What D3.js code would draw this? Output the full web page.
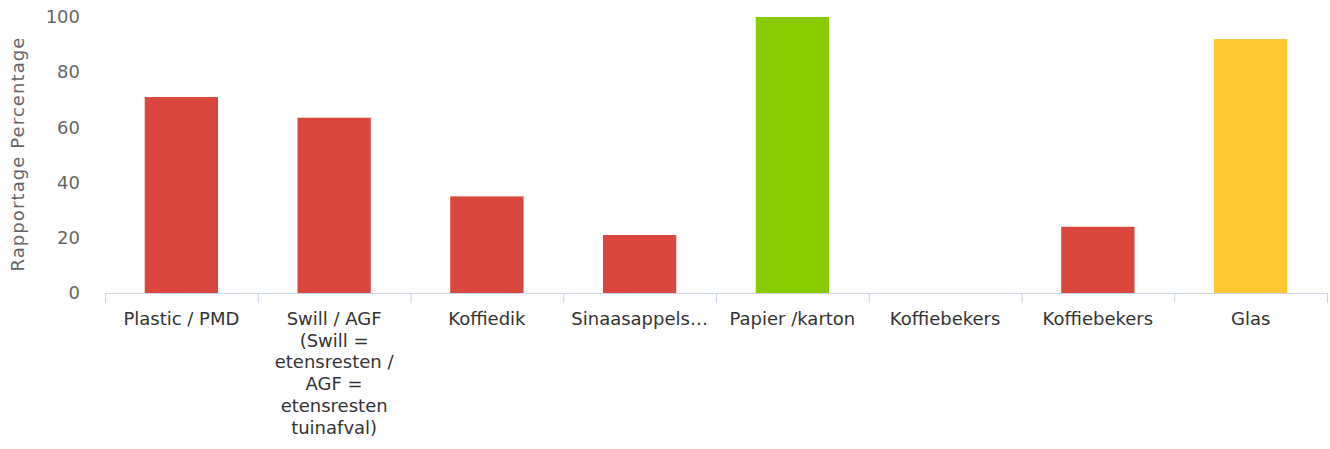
<!DOCTYPE html>
<html>
<head>
<meta charset="utf-8">
<script src="https://cdn.jsdelivr.net/npm/d3@7"></script>
<style>
  body { margin: 0; background: #fff; }
  text { font-family: "DejaVu Sans", sans-serif; }
</style>
</head>
<body>
<div class="chart"></div>
<script>
var categories = [
  "Plastic / PMD",
  "Swill / AGF (Swill = etensresten / AGF = etensresten tuinafval)",
  "Koffiedik",
  "Sinaasappels…",
  "Papier /karton",
  "Koffiebekers",
  "Koffiebekers",
  "Glas"
];
var values = [71, 63.5, 35, 21, 100, 0, 24, 92];
var barColors = ["#d9463e", "#d9463e", "#d9463e", "#d9463e", "#88cc00", "#d9463e", "#d9463e", "#fdc932"];
var yTicks = [0, 20, 40, 60, 80, 100];
var yTitle = "Rapportage Percentage";

var svgWidth = 1330;
var svgHeight = 449;

var margin = { top: 17, right: 3, bottom: 156, left: 105 };
var width = svgWidth - margin.left - margin.right;
var height = svgHeight - margin.top - margin.bottom;

var svg = d3.select(".chart")
  .append("svg")
  .attr("width", svgWidth)
  .attr("height", svgHeight);

var chartGroup = svg.append("g")
  .attr("transform", `translate(${margin.left}, ${margin.top})`);

var xBandScale = d3.scaleBand()
  .domain(d3.range(categories.length))
  .range([0, width])
  .paddingInner(0.52)
  .paddingOuter(0.26);

var yLinearScale = d3.scaleLinear()
  .domain([0, 100])
  .range([height, 0]);

// y tick labels, no axis line
var leftAxis = d3.axisLeft(yLinearScale).tickValues(yTicks).tickSize(0).tickPadding(25);
var yAxis = chartGroup.append("g").call(leftAxis);
yAxis.select(".domain").remove();
yAxis.selectAll("text")
  .attr("fill", "#666")
  .style("font-size", "18px");

// bars
chartGroup.selectAll("rect.bar")
  .data(values)
  .enter()
  .append("rect")
  .attr("class", "bar")
  .attr("x", (d, i) => xBandScale(i))
  .attr("y", d => yLinearScale(d))
  .attr("width", xBandScale.bandwidth())
  .attr("height", d => height - yLinearScale(d))
  .attr("fill", (d, i) => barColors[i]);

// x axis line + ticks at band edges
var step = xBandScale.step();
var edgeScale = d3.scaleLinear().domain([0, categories.length]).range([0, width]);
var bottomAxis = d3.axisBottom(edgeScale)
  .tickValues(d3.range(categories.length + 1))
  .tickSize(10)
  .tickSizeOuter(0)
  .tickFormat("");
var xAxis = chartGroup.append("g")
  .attr("transform", `translate(0, ${height})`)
  .call(bottomAxis);
xAxis.select(".domain").attr("stroke", "#ccd6eb");
xAxis.selectAll(".tick line").attr("stroke", "#ccd6eb");

// category labels, wrapped to the band width
var labelWidth = 146;
var lineHeight = 21.7;
categories.forEach(function(label, i) {
  var t = chartGroup.append("text")
    .attr("x", edgeScale(i + 0.5))
    .attr("y", height + 32)
    .attr("text-anchor", "middle")
    .attr("fill", "#333")
    .style("font-size", "18px");
  var words = label.split(" ");
  var lines = [];
  var line = [];
  var probe = t.append("tspan");
  words.forEach(function(w) {
    line.push(w);
    probe.text(line.join(" "));
    if (probe.node().getComputedTextLength() > labelWidth && line.length > 1) {
      line.pop();
      lines.push(line.join(" "));
      line = [w];
    }
  });
  lines.push(line.join(" "));
  probe.remove();
  lines.forEach(function(l, k) {
    t.append("tspan")
      .attr("x", edgeScale(i + 0.5))
      .attr("dy", k === 0 ? 0 : lineHeight)
      .text(l);
  });
});

// y title
chartGroup.append("text")
  .attr("transform", "rotate(-90)")
  .attr("x", 0 - 137)
  .attr("y", 0 - margin.left + 24)
  .attr("text-anchor", "middle")
  .attr("fill", "#666")
  .style("font-size", "18px")
  .style("letter-spacing", "1.1px")
  .text(yTitle);
</script>
</body>
</html>
